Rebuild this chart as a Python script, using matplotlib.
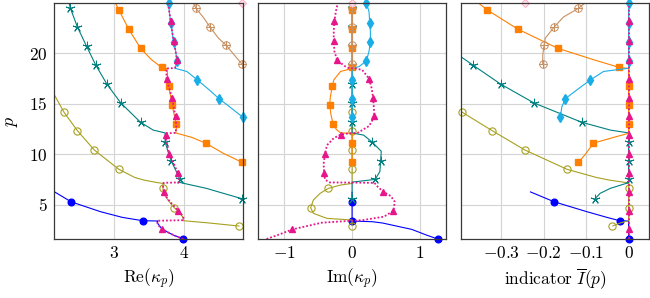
import matplotlib
matplotlib.use('Agg')
import matplotlib.pyplot as plt
from matplotlib.path import Path
from matplotlib.ticker import FuncFormatter

plt.rcParams['mathtext.fontset'] = 'cm'
plt.rcParams['font.family'] = ['DejaVu Serif']

# ---------------- data: (p, Re kappa, Im kappa, indicator) ----------------
p_blue  = [6.30, 5.30, 4.32, 3.76, 3.43, 3.40, 3.33, 3.20, 2.57, 2.00, 1.62]
re_blue = [2.15, 2.39, 2.81, 3.12, 3.41, 3.63, 3.62, 3.62, 3.69, 3.85, 3.99]
im_blue = [0, 0, 0, 0, 0, 0, 0.30, 0.45, 0.88, 1.10, 1.26]
in_blue = [-0.232, -0.175, -0.098, -0.051, -0.021, 0, 0, 0, 0, 0, 0]
mk_blue = [1, 4, 10]

p_olive  = [15.90, 14.15, 12.34, 10.43, 8.52, 7.70, 7.45, 7.20, 7.12, 6.96, 6.63, 6.14, 5.48, 4.71, 4.16, 3.66, 3.50, 3.43, 3.23, 2.90]
re_olive = [2.15, 2.29, 2.48, 2.72, 3.07, 3.30, 3.43, 3.62, 3.70, 3.70, 3.70, 3.71, 3.77, 3.86, 3.95, 3.99, 3.99, 3.99, 4.32, 4.79]
im_olive = [0, 0, 0, 0, 0, 0, 0, 0, 0, -0.17, -0.35, -0.47, -0.57, -0.61, -0.57, -0.37, 0, 0, 0, 0]
in_olive = [-0.46, -0.391, -0.321, -0.244, -0.145, -0.075, -0.045, -0.005, 0, 0, 0, 0, 0, 0, 0, 0, 0, 0, -0.018, -0.038]
mk_olive = [1, 2, 3, 4, 10, 13, 19]

p_teal  = [25.0, 24.45, 22.6, 20.7, 18.85, 16.95, 15.07, 13.17, 12.4, 12.12, 11.9, 11.25, 10.3, 9.30, 8.3, 7.52, 7.25, 7.20, 6.63, 6.14, 5.60]
re_teal = [2.36, 2.38, 2.48, 2.61, 2.74, 2.90, 3.10, 3.38, 3.56, 3.73, 3.73, 3.73, 3.77, 3.82, 3.89, 3.94, 3.94, 3.95, 4.32, 4.56, 4.83]
im_teal = [0, 0, 0, 0, 0, 0, 0, 0, 0, 0, 0.17, 0.29, 0.43, 0.42, 0.41, 0.34, 0, 0, 0, 0, 0]
in_teal = [-0.57, -0.55, -0.49, -0.43, -0.367, -0.301, -0.222, -0.110, -0.043, 0, 0, 0, 0, 0, 0, 0, 0, 0, -0.043, -0.067, -0.079]
mk_teal = [1, 2, 3, 4, 5, 6, 7, 11, 13, 15, 20]

p_or  = [25.0, 24.3, 22.4, 20.5, 19.4, 18.6, 18.5, 18.2, 17.36, 16.76, 15.7, 14.85, 13.9, 13.0, 12.45, 12.12, 12.08, 11.68, 11.1, 10.1, 9.2]
re_or = [3.02, 3.07, 3.21, 3.38, 3.53, 3.68, 3.75, 3.76, 3.77, 3.78, 3.81, 3.83, 3.86, 3.89, 3.89, 3.88, 3.90, 4.11, 4.31, 4.56, 4.83]
im_or = [0, 0, 0, 0, 0, 0, 0, -0.17, -0.27, -0.29, -0.32, -0.33, -0.31, -0.28, -0.23, -0.17, 0, 0, 0, 0, 0]
in_or = [-0.354, -0.333, -0.261, -0.167, -0.085, -0.022, 0, 0, 0, 0, 0, 0, 0, 0, 0, 0, 0, -0.035, -0.083, -0.100, -0.118]
mk_or = [1, 2, 3, 5, 9, 11, 13, 18, 20]

p_cy  = [25.0, 24.1, 23.03, 22.1, 21.15, 20.2, 19.24, 18.67, 18.52, 18.2, 17.36, 16.37, 15.5, 14.7, 13.66]
re_cy = [3.78, 3.79, 3.81, 3.83, 3.85, 3.88, 3.90, 3.88, 3.87, 4.04, 4.19, 4.36, 4.50, 4.65, 4.84]
im_cy = [0.21, 0.25, 0.26, 0.27, 0.27, 0.25, 0.21, 0.10, 0, 0, 0, 0, 0, 0, 0]
in_cy = [0, 0, 0, 0, 0, 0, 0, 0, 0, -0.059, -0.090, -0.122, -0.149, -0.157, -0.161]
mk_cy = [0, 2, 4, 6, 10, 12, 14]

p_br  = [25.0, 24.45, 23.6, 22.6, 21.5, 20.8, 19.8, 18.9]
re_br = [4.13, 4.17, 4.27, 4.37, 4.49, 4.60, 4.72, 4.83]
im_br = [0, 0, 0, 0, 0, 0, 0, 0]
in_br = [-0.102, -0.118, -0.153, -0.175, -0.196, -0.199, -0.202, -0.202]
mk_br = [1, 3, 5, 7]

p_lp  = [25.0]
re_lp = [4.83]
im_lp = [0]
in_lp = [-0.244]
mk_lp = [0]

p_pk  = [1.62, 2.00, 2.57, 3.00, 3.23, 3.43, 3.48, 3.83, 4.42, 5.30, 5.87, 6.30, 6.90, 7.18, 7.22, 7.50, 8.15, 9.00, 10.03, 10.90,
         11.60, 11.95, 12.08, 12.12, 12.80, 13.75, 14.70, 15.60, 16.50, 17.50, 18.35, 18.50, 18.54, 18.70, 19.30, 20.20, 21.20, 22.20,
         23.15, 24.10, 25.00]
re_pk = [3.99, 3.85, 3.69, 3.63, 3.62, 3.63, 3.99, 3.99, 3.92, 3.80, 3.74, 3.71, 3.70, 3.71, 3.93, 3.93, 3.91, 3.86, 3.79, 3.76,
         3.74, 3.74, 3.74, 3.88, 3.89, 3.88, 3.85, 3.83, 3.79, 3.75, 3.75, 3.75, 3.87, 3.88, 3.90, 3.88, 3.85, 3.83,
         3.81, 3.79, 3.77]
im_pk = [-1.26, -1.10, -0.88, -0.60, -0.45, 0.0, 0.15, 0.47, 0.61, 0.63, 0.57, 0.46, 0.36, 0.33, -0.33, -0.40, -0.41, -0.42, -0.40, -0.37,
         -0.27, -0.17, -0.05, 0.08, 0.25, 0.33, 0.32, 0.31, 0.29, 0.25, 0.15, 0.05, -0.05, -0.10, -0.22, -0.26, -0.27, -0.27,
         -0.26, -0.24, -0.21]
in_pk = [0, 0, 0, 0, 0, 0, 0, 0, 0, 0, 0, 0, 0, 0, 0, 0, 0, 0, 0, 0,
         0, 0, 0, 0, 0, 0, 0, 0, 0, 0, 0, 0, 0, 0, 0, 0, 0, 0,
         0, 0, 0]
mk_pk = [2, 8, 11, 16, 18, 21, 25, 27, 29, 34, 36, 38]

xticks_re = [3, 4]
xticks_im = [-1, 0, 1]
xticks_in = [-0.3, -0.2, -0.1, 0]
yticks_p = [5, 10, 15, 20]
xlabels = [r'$\mathrm{Re}(\kappa_p)$', r'$\mathrm{Im}(\kappa_p)$', r'$\mathrm{indicator}\ \overline{I}(p)$']

# ---------------- styles ----------------
oplus = Path.make_compound_path(
    Path.unit_circle(),
    Path([(-1, 0), (1, 0), (0, -1), (0, 1)], [Path.MOVETO, Path.LINETO, Path.MOVETO, Path.LINETO]))

series = [
    (p_blue, re_blue, im_blue, in_blue, mk_blue,
     dict(color='#0000ff', lw=0.8), dict(marker='o', ms=4.8, mfc='#0000ff', mec='#0000ff')),
    (p_olive, re_olive, im_olive, in_olive, mk_olive,
     dict(color='#a8a020', lw=0.8), dict(marker='o', ms=5.2, mfc='none', mec='#a8a020', mew=0.8)),
    (p_teal, re_teal, im_teal, in_teal, mk_teal,
     dict(color='#008080', lw=0.8), dict(marker=(5, 2, 0), ms=6.8, mec='#008080', mew=0.7)),
    (p_or, re_or, im_or, in_or, mk_or,
     dict(color='#ff8000', lw=0.8), dict(marker='s', ms=4.6, mfc='#ff8000', mec='#ff8000')),
    (p_cy, re_cy, im_cy, in_cy, mk_cy,
     dict(color='#1aaee6', lw=0.8), dict(marker='d', ms=5.2, mfc='#1aaee6', mec='#1aaee6')),
    (p_br, re_br, im_br, in_br, mk_br,
     dict(color='#c89060', lw=0.8), dict(marker=oplus, ms=5.4, mfc='none', mec='#c89060', mew=0.7)),
    (p_lp, re_lp, im_lp, in_lp, mk_lp,
     dict(color='#ffb0c4', lw=0.8), dict(marker='D', ms=3.8, mfc='#ffe6ee', mec='#ffa8be', mew=0.7)),
    (p_pk, re_pk, im_pk, in_pk, mk_pk,
     dict(color='#e6168a', lw=1.3, ls=(0, (1, 1.1))), dict(marker='^', ms=4.8, mfc='#e6168a', mec='#e6168a')),
]

xlims = [(2.15, 4.84), (-1.39, 1.39), (-0.395, 0.049)]
ylim = (1.62, 24.98)
xticks = [xticks_re, xticks_im, xticks_in]

fig = plt.figure(figsize=(6.5, 2.98), dpi=100)
lefts = [0.0835, 0.3965, 0.7088]
axes = [fig.add_axes([l, 0.198, 0.2903, 0.792]) for l in lefts]

fmt = FuncFormatter(lambda v, pos: r'$%g$' % round(v, 6))

for k, ax in enumerate(axes):
    ax.set_xlim(*xlims[k])
    ax.set_ylim(*ylim)
    ax.set_xticks(xticks[k])
    ax.set_yticks(yticks_p)
    ax.xaxis.set_major_formatter(fmt)
    ax.yaxis.set_major_formatter(fmt)
    ax.grid(True, color='#d4d4d4', lw=0.8, zorder=0)
    ax.set_axisbelow(True)
    ax.tick_params(length=0, labelsize=12.5)
    ax.tick_params(axis='x', pad=4)
    ax.tick_params(axis='y', pad=5)
    if k > 0:
        ax.tick_params(labelleft=False)
    for s in ax.spines.values():
        s.set_color('#383838')
        s.set_linewidth(0.9)
        s.set_zorder(20)
    ax.set_xlabel(xlabels[k], fontsize=12.5, labelpad=4)
    x0, x1 = xlims[k]
    z = 2
    for (pp, re, im, ind, mk, lsty, msty) in series:
        xs = [re, im, ind][k]
        ax.plot(xs, pp, zorder=z, solid_capstyle='butt', **lsty)
        mx = [xs[i] for i in mk if x0 - 1e-3 <= xs[i] <= x1 + 1e-3]
        my = [pp[i] for i in mk if x0 - 1e-3 <= xs[i] <= x1 + 1e-3]
        ax.plot(mx, my, ls='none', zorder=z + 0.5, clip_on=False, **msty)
        z += 1

axes[0].set_ylabel(r'$p$', fontsize=13, labelpad=6)

fig.savefig('out.png', dpi=100)
